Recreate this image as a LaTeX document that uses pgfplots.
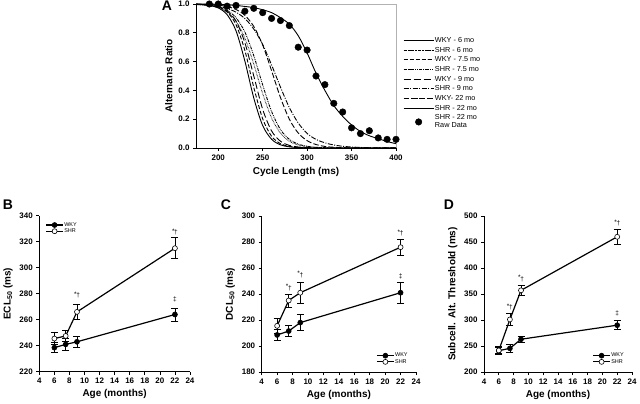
\documentclass[border=0pt]{standalone}
\usepackage{pgfplots}
\pgfplotsset{compat=1.18}
\usepackage{pgfplotstable}
\usepackage{fontspec}
\setmainfont{Liberation Sans}

\pgfplotstableread{
x   wa     sa     wb     sb     wc     sc     wd     sd
175 0.998  0.997  0.999  0.9975 0.998  0.996  0.999  1.000
180 0.997  0.995  0.9975 0.996  0.9975 0.995  0.998  1.000
190 0.990  0.989  0.993  0.991  0.993  0.991  0.996  0.999
200 0.973  0.975  0.980  0.981  0.982  0.983  0.992  0.998
210 0.926  0.944  0.945  0.956  0.953  0.969  0.982  0.995
220 0.814  0.881  0.857  0.905  0.881  0.943  0.962  0.990
230 0.603  0.763  0.677  0.805  0.731  0.899  0.921  0.983
240 0.347  0.582  0.421  0.641  0.500  0.826  0.844  0.975
250 0.156  0.378  0.203  0.438  0.269  0.719  0.715  0.960
260 0.061  0.209  0.082  0.254  0.119  0.577  0.537  0.940
270 0.022  0.103  0.030  0.128  0.047  0.423  0.351  0.905
280 0.008  0.047  0.011  0.060  0.018  0.281  0.200  0.860
290 0.003  0.021  0.004  0.027  0.007  0.174  0.104  0.780
300 0.001  0.009  0.001  0.012  0.0025 0.101  0.051  0.660
310 0.000  0.004  0.000  0.005  0.001  0.060  0.024  0.520
320 0.000  0.002  0.000  0.002  0.000  0.036  0.011  0.400
330 0.000  0.001  0.000  0.001  0.000  0.021  0.005  0.295
340 0.000  0.000  0.000  0.000  0.000  0.012  0.0025 0.220
350 0.000  0.000  0.000  0.000  0.000  0.007  0.001  0.160
360 0.000  0.000  0.000  0.000  0.000  0.004  0.000  0.115
370 0.000  0.000  0.000  0.000  0.000  0.002  0.000  0.085
380 0.000  0.000  0.000  0.000  0.000  0.001  0.000  0.065
390 0.000  0.000  0.000  0.000  0.000  0.001  0.000  0.045
400 0.000  0.000  0.000  0.000  0.000  0.0005 0.000  0.030
}\curves

\pgfplotstableread{
x   y
190 1.00
200 1.00
210 0.985
220 0.99
230 0.95
240 0.97
250 0.94
260 0.90
270 0.885
280 0.85
290 0.70
300 0.68
310 0.50
320 0.44
330 0.31
340 0.25
350 0.14
360 0.10
370 0.12
380 0.07
390 0.06
400 0.06
}\rawdata

\pgfplotstableread{
x   y     e
6   238.5 4
7.5 241   4.5
9   243   4
22  264   5
}\bwky
\pgfplotstableread{
x   y     e
6   245.5 4.5
7.5 247.5 4
9   266   5.5
22  315   8
}\bshr
\pgfplotstableread{
x   y     e
6   208.5 4.5
7.5 211.5 4.5
9   218   6
22  241   8
}\cwky
\pgfplotstableread{
x   y     e
6   215.5 6
7.5 235   5
9   241   8
22  276   6
}\cshr
\pgfplotstableread{
x   y     e
6   241   6
7.5 245.5 8
9   263   6
22  290   9
}\dwky
\pgfplotstableread{
x   y     e
6   241.5 7
7.5 301   12
9   357   10
22  460   15
}\dshr

\tikzset{ann/.style={font=\fontsize{6.5}{7}\selectfont, inner sep=0.5bp}}
\newcommand{\sd}{\raisebox{0.35ex}{*}\kern-0.3pt†}

\pgfplotsset{
  common/.style={
    scale only axis, anchor=south west,
    /pgf/number format/assume math mode=true,
    tick label style={font=\bfseries\fontsize{8}{9}\selectfont},
    label style={font=\bfseries\fontsize{10}{12}\selectfont},
    tick align=outside, major tick length=3bp,
    every tick/.style={black, line width=0.7bp},
  },
  agestyle/.style={
    common,
    axis lines*=left,
    axis line style={line width=0.8bp},
    xmin=4, xmax=24, xtick={4,6,...,24},
    xlabel={Age (months)},
    xlabel style={yshift=1bp},
    legend cell align=left,
    legend style={draw=none, fill=none, font=\fontsize{5.5}{6}\selectfont,
      nodes={inner sep=0.6bp}, row sep=-0.3bp},
    legend image code/.code={\draw[mark repeat=2,mark phase=2,#1] plot coordinates {(0bp,0bp) (8.5bp,0bp) (17bp,0bp)};},
  },
  wky/.style={black, line width=1.2bp, mark=*, mark size=2.5bp,
    mark options={solid, fill=black, line width=0.6bp},
    error bars/.cd, y dir=both, y explicit,
    error bar style={line width=0.8bp, black},
    error mark options={rotate=90, mark size=3.5bp, line width=0.8bp, black}},
  shr/.style={black, line width=1.2bp, mark=*, mark size=2.5bp,
    mark options={solid, fill=white, line width=0.6bp},
    error bars/.cd, y dir=both, y explicit,
    error bar style={line width=0.8bp, black},
    error mark options={rotate=90, mark size=3.5bp, line width=0.8bp, black}},
  curve/.style={black, line width=0.9bp, smooth, no marks},
}

\begin{document}
\begin{tikzpicture}
\path[use as bounding box] (0,0) rectangle (640bp,404bp);

% ---------------- Panel A ----------------
\begin{axis}[common,
  at={(196bp,256bp)}, width=200bp, height=144bp,
  xmin=175, xmax=400, ymin=0, ymax=1,
  xtick={200,250,300,350,400},
  ytick={0,0.2,0.4,0.6,0.8,1.0},
  yticklabel style={/pgf/number format/fixed, /pgf/number format/fixed zerofill, /pgf/number format/precision=1},
  xlabel={Cycle Length (ms)}, ylabel={Alternans Ratio},
  ylabel style={yshift=-1bp},
  axis x line*=bottom, axis y line*=left,
  axis line style={line width=0.7bp},
  clip mode=individual,
  legend cell align=left,
  legend style={at={(1.02,0.79)}, anchor=north west, draw=none, fill=none,
    font=\fontsize{7.3}{8.3}\selectfont, nodes={inner sep=0.9bp}, row sep=1.3bp},
  legend image code/.code={\draw[mark repeat=2,mark phase=2,#1] plot coordinates {(0bp,0bp) (15bp,0bp) (30bp,0bp)};},
]
\draw[gray!60, line width=0.6bp] (rel axis cs:0,1) -- (rel axis cs:1,1) -- (rel axis cs:1,0);
\addplot[curve] table[x=x, y=wa] {\curves};
\addlegendentry{WKY - 6 mo}
\addplot[curve, dash pattern=on 0.5bp off 0.9bp] table[x=x, y=sa] {\curves};
\addlegendentry{SHR - 6 mo}
\addplot[curve, dash pattern=on 4bp off 2bp] table[x=x, y=wb] {\curves};
\addlegendentry{WKY - 7.5 mo}
\addplot[curve, dash pattern=on 3bp off 1bp on 0.8bp off 1bp on 0.8bp off 1bp] table[x=x, y=sb] {\curves};
\addlegendentry{SHR - 7.5 mo}
\addplot[curve, dash pattern=on 7bp off 3bp] table[x=x, y=wc] {\curves};
\addlegendentry{WKY - 9 mo}
\addplot[curve, dash pattern=on 5bp off 1.5bp on 1bp off 1.5bp] table[x=x, y=sc] {\curves};
\addlegendentry{SHR - 9 mo}
\addplot[curve, dash pattern=on 5.5bp off 2.2bp] table[x=x, y=wd] {\curves};
\addlegendentry{WKY- 22 mo}
\addplot[curve] table[x=x, y=sd] {\curves};
\addlegendentry{SHR - 22 mo}
\addplot[only marks, mark=*, mark size=3.3bp, black] table[x=x, y=y] {\rawdata};
\addlegendentry{\shortstack[l]{SHR - 22 mo\\Raw Data}}
\end{axis}

% ---------------- Panel B ----------------
\begin{axis}[agestyle,
  at={(39.3bp,32.3bp)}, width=150.7bp, height=156bp,
  ymin=220, ymax=340, ytick={220,240,...,340},
  ylabel={ECL\textsubscript{50} (ms)},
  legend style={at={(0.02,0.975)}, anchor=north west},
]
\addplot[wky] table[x=x, y=y, y error=e] {\bwky};
\addlegendentry{WKY}
\addplot[shr] table[x=x, y=y, y error=e] {\bshr};
\addlegendentry{SHR}
\node[ann] at (axis cs:9,279) {\sd};
\node[ann] at (axis cs:22,327.5) {\sd};
\node[ann] at (axis cs:22,275.5) {‡};
\end{axis}

% ---------------- Panel C ----------------
\begin{axis}[agestyle,
  at={(261.7bp,32bp)}, width=154.3bp, height=156bp,
  ymin=180, ymax=300, ytick={180,200,...,300},
  ylabel={DCL\textsubscript{50} (ms)},
  legend style={at={(0.97,0.03)}, anchor=south east},
]
\addplot[wky] table[x=x, y=y, y error=e] {\cwky};
\addlegendentry{WKY}
\addplot[shr] table[x=x, y=y, y error=e] {\cshr};
\addlegendentry{SHR}
\node[ann] at (axis cs:7.5,245) {\sd};
\node[ann] at (axis cs:9,255) {\sd};
\node[ann] at (axis cs:22,287) {\sd};
\node[ann] at (axis cs:22,253.5) {‡};
\end{axis}

% ---------------- Panel D ----------------
\begin{axis}[agestyle,
  at={(484bp,32bp)}, width=148bp, height=156bp,
  ymin=200, ymax=500, ytick={200,250,...,500},
  ylabel={Subcell. Alt. Threshold (ms)},
  legend style={at={(0.97,0.03)}, anchor=south east},
]
\addplot[wky] table[x=x, y=y, y error=e] {\dwky};
\addlegendentry{WKY}
\addplot[shr] table[x=x, y=y, y error=e] {\dshr};
\addlegendentry{SHR}
\node[ann] at (axis cs:7.5,325) {\sd};
\node[ann] at (axis cs:9,380) {\sd};
\node[ann] at (axis cs:22,486.5) {\sd};
\node[ann] at (axis cs:22,312.5) {‡};
\end{axis}

% panel letters
\node[font=\bfseries\fontsize{14}{14}\selectfont] at (167bp,398bp) {A};
\node[font=\bfseries\fontsize{14}{14}\selectfont] at (8bp,199.5bp) {B};
\node[font=\bfseries\fontsize{14}{14}\selectfont] at (226bp,199.5bp) {C};
\node[font=\bfseries\fontsize{14}{14}\selectfont] at (449bp,199.5bp) {D};
\end{tikzpicture}
\end{document}
